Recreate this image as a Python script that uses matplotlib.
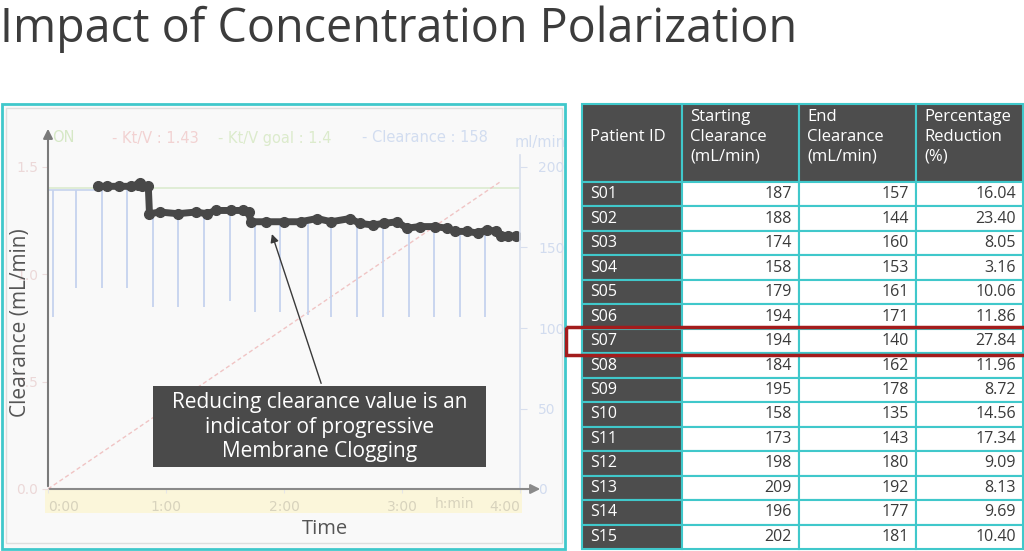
import numpy as np
import matplotlib
matplotlib.use("Agg")
import matplotlib.pyplot as plt
from matplotlib.patches import Rectangle

# ---- values ----
title = "Impact of Concentration Polarization"

hour_ticks = [0, 1, 2, 3, 4]
hour_labels = ["0:00", "1:00", "2:00", "3:00", "4:00"]
ktv_ticks = [0.0, 0.5, 1.0, 1.5]
ml_ticks = [0, 50, 100, 150, 200]

# Kt/V (left axis) and its goal
ktv_t = [0.0, 3.83]
ktv = [0.0, 1.43]
goal_t = [0.0, 4.0]
goal = [1.4, 1.4]

# clearance trace, ml/min (right axis)
trace_t = [0.42, 0.50, 0.60, 0.70, 0.76, 0.78, 0.80, 0.85,
           0.86, 0.95, 1.10, 1.25, 1.35, 1.42, 1.55, 1.65, 1.70,
           1.72, 1.85, 2.00, 2.14, 2.28, 2.40, 2.56, 2.64, 2.75, 2.85,
           2.96, 3.04, 3.15, 3.28, 3.38, 3.45, 3.55, 3.64, 3.72, 3.80,
           3.84, 3.90, 3.97]
trace_v = [188, 188, 188, 188, 189, 190, 188, 188,
           171, 172, 171, 172, 171, 173, 173, 173, 172,
           166, 166, 166, 166, 168, 166, 168, 165, 164, 165,
           166, 162, 163, 163, 162, 160, 160, 159, 161, 160,
           157, 157, 157]
base_t = [0.0, 0.42]
base_v = [186, 186]

# downward blue spikes of the clearance curve
spike_t = [0.04, 0.24, 0.46, 0.67, 0.89, 1.10, 1.32, 1.54, 1.75,
           1.97, 2.20, 2.40, 2.62, 2.84, 3.06, 3.27, 3.49, 3.70]
spike_top = [186, 186, 188, 188, 171, 171, 172, 173, 166,
             166, 166, 167, 166, 164, 162, 163, 160, 160]
spike_low = [107, 125, 125, 125, 113, 113, 113, 117, 110,
             110, 108, 107, 107, 107, 107, 107, 107, 107]

legend_txt = ["ON", "- Kt/V : 1.43", "- Kt/V goal : 1.4", "- Clearance : 158"]

note = "Reducing clearance value is an\nindicator of progressive\nMembrane Clogging"

headers = ["Patient ID", "Starting\nClearance\n(mL/min)",
           "End\nClearance\n(mL/min)", "Percentage\nReduction\n(%)"]
patient_ids = ["S01", "S02", "S03", "S04", "S05", "S06", "S07", "S08",
               "S09", "S10", "S11", "S12", "S13", "S14", "S15"]
start_clear = [187, 188, 174, 158, 179, 194, 194, 184, 195, 158, 173, 198, 209, 196, 202]
end_clear = [157, 144, 160, 153, 161, 171, 140, 162, 178, 135, 143, 180, 192, 177, 181]
pct_red = [16.04, 23.40, 8.05, 3.16, 10.06, 11.86, 27.84, 11.96, 8.72,
           14.56, 17.34, 9.09, 8.13, 9.69, 10.40]
highlight = "S07"

# ---- styling ----
SLIDE = ["Open Sans", "DejaVu Sans"]
DARK = "#4d4d4d"
CYAN = "#40c8cb"
BLUE = "#c6d3ee"
W, H = 1024, 551


def box(x0, y0, x1, y1):
    return [x0 / W, 1 - y1 / H, (x1 - x0) / W, (y1 - y0) / H]


fig = plt.figure(figsize=(W / 100, H / 100), dpi=100)
fig.patch.set_facecolor("white")

bg = fig.add_axes([0, 0, 1, 1], zorder=0)
bg.set_xlim(0, W)
bg.set_ylim(H, 0)
bg.axis("off")

# screenshot frame
bg.add_patch(Rectangle((2, 104), 563, 445, facecolor="#f9f9f9", edgecolor=CYAN, lw=2))
bg.add_patch(Rectangle((6, 108), 556, 435, facecolor="none", edgecolor="#dedede", lw=1))
bg.add_patch(Rectangle((45, 489), 477, 24, facecolor="#fbf6da", edgecolor="none"))

# ---- machine chart ----
ax = fig.add_axes(box(48, 130, 520, 489), zorder=1)
ax.patch.set_alpha(0)
ax.set_xlim(0, 4)
ax.set_ylim(0, 1.5 * 359 / 322)
ax2 = ax.twinx()
ax2.set_ylim(0, 200 * 359 / 322)
for a in (ax, ax2):
    for s in a.spines.values():
        s.set_visible(False)

ax.plot(goal_t, goal, color="#dcebd0", lw=1.2, zorder=1)
ax.plot(ktv_t, ktv, color="#f0c4c4", lw=1, linestyle=(0, (3, 2)), zorder=2)
ax2.plot(base_t, base_v, color=BLUE, lw=1.2, zorder=2)
ax2.vlines(spike_t, spike_low, spike_top, color=BLUE, lw=1.3, zorder=2)
ax2.plot(trace_t, trace_v, color="#484848", lw=5, marker="o", ms=7,
         solid_capstyle="round", solid_joinstyle="round", zorder=3)

ax.set_xticks(hour_ticks)
ax.set_xticklabels(hour_labels)
ax.tick_params(axis="x", length=3, color="#e6e6e6", labelcolor="#d8d3bd",
               labelsize=10, pad=5)
xl = ax.get_xticklabels()
xl[0].set_ha("left")
xl[-1].set_ha("right")
ax.set_yticks(ktv_ticks)
ax.set_yticklabels([f"{v:.1f}" for v in ktv_ticks])
ax.tick_params(axis="y", length=4, color="#ecdcdc", labelcolor="#ecd8d8",
               labelsize=10, pad=3)
ax2.set_yticks(ml_ticks)
ax2.tick_params(axis="y", length=5, color="#d8dfee", labelcolor="#d2dcef",
                labelsize=10, pad=8)

# ---- overlay: axes lines, texts, table ----
fg = fig.add_axes([0, 0, 1, 1], zorder=5)
fg.set_xlim(0, W)
fg.set_ylim(H, 0)
fg.axis("off")

fg.plot([520, 520], [489, 155], color="#d8dfee", lw=1.2)
fg.annotate("", xy=(48, 126), xytext=(48, 489),
            arrowprops=dict(arrowstyle="-|>", color="#7a7a7a", lw=1.5, mutation_scale=14))
fg.annotate("", xy=(543, 489), xytext=(47, 489),
            arrowprops=dict(arrowstyle="-|>", color="#8a8a8a", lw=1.5, mutation_scale=14))

leg_x = [52, 112, 218, 362]
leg_c = ["#d6e8c6", "#f2d2d2", "#dcebcc", "#d2ddf0"]
for x, t, c in zip(leg_x, legend_txt, leg_c):
    fg.text(x, 138, t, color=c, fontsize=10.5, va="center", family="DejaVu Sans")
fg.text(515, 142, "ml/min", color="#d2ddf0", fontsize=10.5, va="center", family="DejaVu Sans")
fg.text(455, 504, "h:min", color="#d8d3bd", fontsize=10, va="center", ha="center",
        family="DejaVu Sans")

fg.text(21, 323, "Clearance (mL/min)", rotation=90, ha="center", va="center",
        fontsize=15, color="#555555", family=SLIDE)
fg.text(325, 529, "Time", ha="center", va="center", fontsize=14.5, color="#555555", family=SLIDE)

fg.add_patch(Rectangle((153, 386), 333, 81, facecolor="#4a4a4a", edgecolor="none"))
fg.text(320, 427, note, ha="center", va="center", color="white", fontsize=15,
        linespacing=1.2, family=SLIDE)
fg.annotate("", xy=(1.89, 160), xycoords=ax2.transData,
            xytext=(322, 386), textcoords=fg.transData,
            arrowprops=dict(arrowstyle="-|>", color="#3a3a3a", lw=1, mutation_scale=12))

fg.text(0, 42, title, fontsize=33.6, color="#3c3c3c", va="baseline", family=SLIDE)

# table
col_x = [582, 682, 799, 916, 1023]
top, head_bot, bot = 104, 182, 549
row_h = (bot - head_bot) / len(patient_ids)

for i, h in enumerate(headers):
    fg.add_patch(Rectangle((col_x[i], top), col_x[i + 1] - col_x[i], head_bot - top,
                           facecolor=DARK, edgecolor=CYAN, lw=1.5))
    fg.text(col_x[i] + 8, 137, h, color="white", fontsize=12,
            va="center", ha="left", linespacing=1.33, family=SLIDE)

for r, pid in enumerate(patient_ids):
    y0 = head_bot + r * row_h
    yc = y0 + row_h / 2
    vals = [pid, f"{start_clear[r]}", f"{end_clear[r]}", f"{pct_red[r]:.2f}"]
    for i, v in enumerate(vals):
        fc = DARK if i == 0 else "white"
        fg.add_patch(Rectangle((col_x[i], y0), col_x[i + 1] - col_x[i], row_h,
                               facecolor=fc, edgecolor=CYAN, lw=1.5))
        if i == 0:
            fg.text(col_x[i] + 8, yc, v, color="white", fontsize=11.5, va="center",
                    ha="left", family=SLIDE)
        else:
            fg.text(col_x[i + 1] - 7, yc, v, color="#3a3a3a", fontsize=11.5,
                    va="center", ha="right", family=SLIDE)
    if pid == highlight:
        fg.add_patch(Rectangle((566, y0 - 2), 470, row_h + 4, facecolor="none",
                               edgecolor="#a31c1c", lw=2.5, zorder=6))

fig.savefig("out.png", dpi=100)
